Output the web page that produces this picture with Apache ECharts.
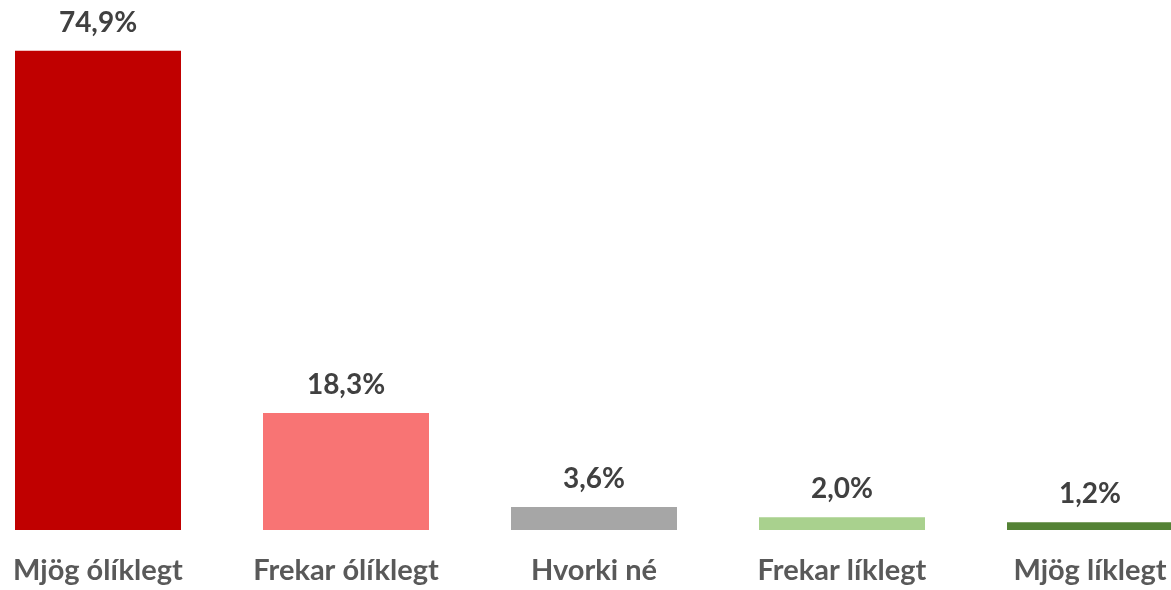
<!DOCTYPE html>
<html>
<head>
<meta charset="utf-8">
<script src="https://cdn.jsdelivr.net/npm/echarts@6/dist/echarts.min.js"></script>
<style>
  html, body { margin: 0; padding: 0; background: #fff; }
  #chart { width: 1171px; height: 590px; }
</style>
</head>
<body>
<div id="chart"></div>
<script>
var categories = ['Mjög ólíklegt', 'Frekar ólíklegt', 'Hvorki né', 'Frekar líklegt', 'Mjög líklegt'];
var values = [74.9, 18.3, 3.6, 2.0, 1.2];
var barColors = ['#C00000', '#F87474', '#A6A6A6', '#A9D18E', '#548235'];

var myChart = echarts.init(document.getElementById('chart'));
myChart.setOption({
    animation: false,
    grid: { left: -26, width: 1240, top: 18, bottom: 60, containLabel: false, outerBoundsMode: 'none' },
    xAxis: {
        type: 'category',
        data: categories,
        axisLine: { show: false },
        axisTick: { show: false },
        axisLabel: {
            color: '#595959',
            fontFamily: 'Lato',
            fontWeight: 'bold',
            fontSize: 29,
            margin: 26
        }
    },
    yAxis: {
        type: 'value',
        min: 0,
        max: 80,
        show: false
    },
    series: [{
        type: 'bar',
        barWidth: 166,
        data: values.map(function (v, i) {
            return { value: v, itemStyle: { color: barColors[i] } };
        }),
        label: {
            show: true,
            position: 'top',
            distance: 14,
            color: '#404040',
            fontFamily: 'Lato',
            fontWeight: 'bold',
            fontSize: 28,
            formatter: function (p) {
                return p.value.toFixed(1).replace('.', ',') + '%';
            }
        }
    }]
});
</script>
</body>
</html>
